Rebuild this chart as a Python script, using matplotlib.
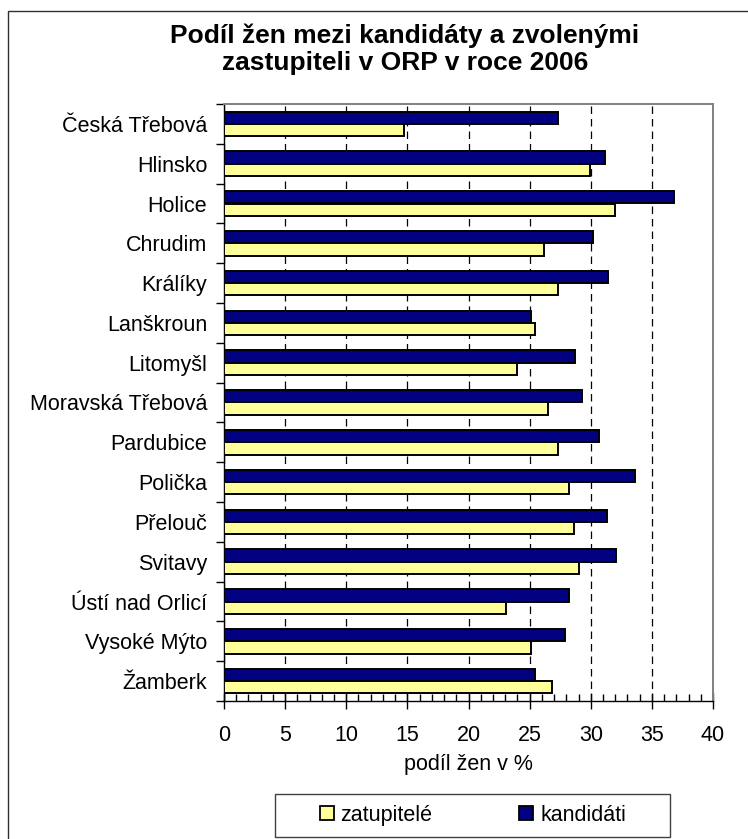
import matplotlib.pyplot as plt
from matplotlib.patches import Rectangle
from matplotlib.lines import Line2D
from matplotlib.ticker import MultipleLocator, FixedLocator

# ORP names, top to bottom
orp = ['Česká Třebová', 'Hlinsko', 'Holice', 'Chrudim', 'Králíky', 'Lanškroun',
       'Litomyšl', 'Moravská Třebová', 'Pardubice', 'Polička', 'Přelouč',
       'Svitavy', 'Ústí nad Orlicí', 'Vysoké Mýto', 'Žamberk']
# share of women (%)
kandidati = [27.3, 31.2, 36.8, 30.2, 31.4, 25.1, 28.7, 29.3, 30.7, 33.6,
             31.3, 32.1, 28.2, 27.9, 25.4]
zastupitele = [14.7, 29.9, 32.0, 26.2, 27.3, 25.4, 24.0, 26.5, 27.3, 28.2,
               28.6, 29.0, 23.1, 25.1, 26.8]
x_ticks = [0, 5, 10, 15, 20, 25, 30, 35, 40]

plt.rcParams['font.family'] = ['Liberation Sans', 'DejaVu Sans']

W, H = 748, 839
fig = plt.figure(figsize=(W / 100, H / 100), dpi=100)

def fx(px):
    return px / W

def fy(py):
    return 1 - py / H

FS = 15.5

# outer chart frame
fig.patches.append(Rectangle((fx(8), -0.02), 1.05, fy(11) + 0.02, transform=fig.transFigure,
                             fill=False, edgecolor='#303030', linewidth=1.0, clip_on=False))

ax = fig.add_axes([fx(224), fy(701), fx(713) - fx(224), fy(104) - fy(701)])

pos = list(range(len(orp)))
h = 0.31
ax.barh([p - 0.155 for p in pos], kandidati, height=h, color='#000080',
        edgecolor='black', linewidth=1.4, zorder=3)
ax.barh([p + 0.155 for p in pos], zastupitele, height=h, color='#FFFF99',
        edgecolor='black', linewidth=1.4, zorder=3)

ax.set_xlim(0, 40)
ax.set_ylim(len(orp) - 0.5, -0.5)

ax.set_xticks(x_ticks)
ax.xaxis.set_minor_locator(MultipleLocator(1))
ax.tick_params(axis='x', which='major', direction='inout', length=12, width=1,
               labelsize=FS, pad=11)
ax.tick_params(axis='x', which='minor', direction='in', length=5, width=1)

ax.set_yticks(pos)
ax.set_yticklabels(orp)
ax.yaxis.set_minor_locator(FixedLocator([p - 0.5 for p in pos] + [len(orp) - 0.5]))
ax.tick_params(axis='y', which='major', length=0, labelsize=FS, pad=12)
ax.tick_params(axis='y', which='minor', direction='out', length=6, width=1)

ax.grid(axis='x', which='major', color='black', linestyle=(0, (6, 4)), linewidth=0.9)
ax.set_axisbelow(True)

for s in ['left', 'bottom']:
    ax.spines[s].set_color('black')
    ax.spines[s].set_linewidth(1.0)
for s in ['top', 'right']:
    ax.spines[s].set_color('#808080')
    ax.spines[s].set_linewidth(1.4)

ax.set_xlabel('podíl žen v %', fontsize=FS, labelpad=6)

fig.text(fx(405), fy(24), 'Podíl žen mezi kandidáty a zvolenými\nzastupiteli v ORP v roce 2006',
         ha='center', va='top', fontsize=19, fontweight='bold', linespacing=1.15)

# legend
fig.patches.append(Rectangle((fx(275), fy(837)), fx(670) - fx(275), fy(794) - fy(837),
                             transform=fig.transFigure, fill=False,
                             edgecolor='#404040', linewidth=1.0))
handles = [
    Line2D([0], [0], marker='s', linestyle='none', markersize=9.5,
           markerfacecolor='#FFFF99', markeredgecolor='black', markeredgewidth=1.3,
           label='zatupitelé'),
    Line2D([0], [0], marker='s', linestyle='none', markersize=9.5,
           markerfacecolor='#000080', markeredgecolor='black', markeredgewidth=1.3,
           label='kandidáti'),
]
fig.legend(handles=handles, loc='center', bbox_to_anchor=(fx(472.5), fy(815.5)),
           ncol=2, frameon=False, fontsize=FS, handlelength=0.7,
           handletextpad=0.3, columnspacing=4.0)

fig.savefig('out.png', dpi=100)
